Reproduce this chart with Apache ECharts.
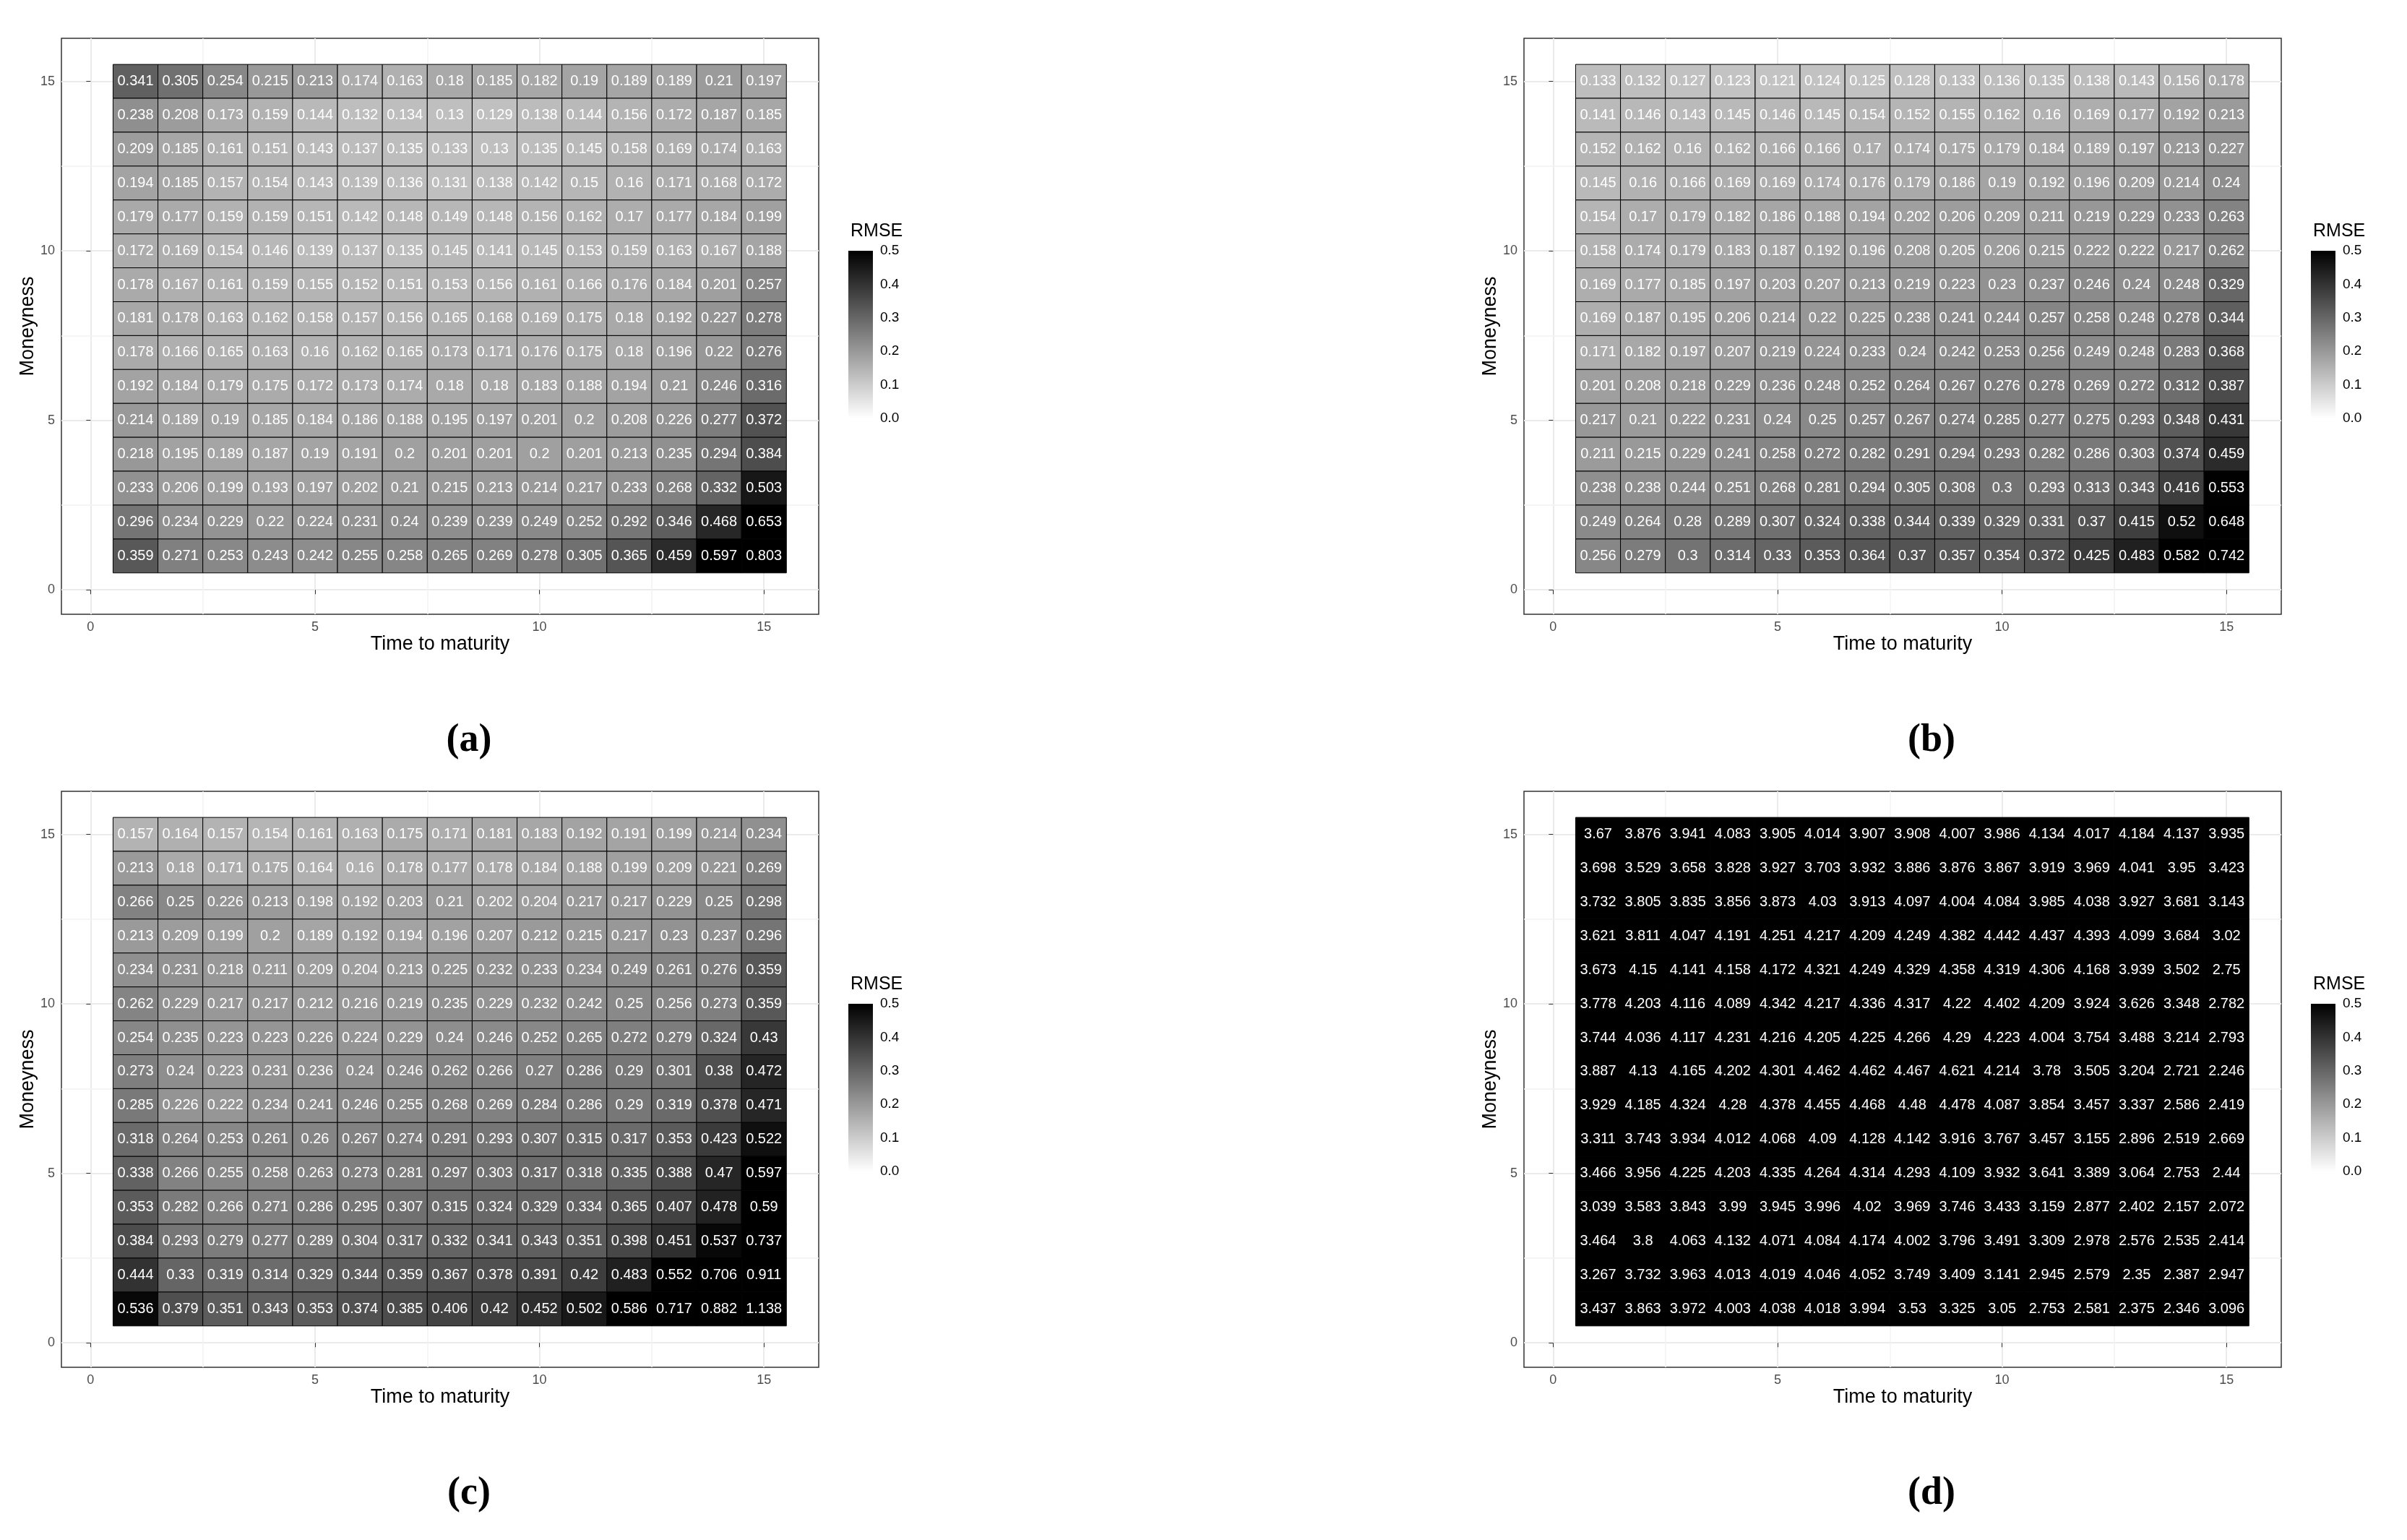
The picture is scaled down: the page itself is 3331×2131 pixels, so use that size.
<!DOCTYPE html>
<html><head><meta charset="utf-8">
<script src="https://cdn.jsdelivr.net/npm/echarts@6/dist/echarts.min.js"></script>
<style>html,body{margin:0;padding:0;background:#fff}#c{width:3331px;height:2131px}</style>
</head><body><div id="c"></div>
<script>
// rows listed from Moneyness 15 (top) down to 1 (bottom); columns Time to maturity 1..15
var panelA = [
[0.341,0.305,0.254,0.215,0.213,0.174,0.163,0.18,0.185,0.182,0.19,0.189,0.189,0.21,0.197],
[0.238,0.208,0.173,0.159,0.144,0.132,0.134,0.13,0.129,0.138,0.144,0.156,0.172,0.187,0.185],
[0.209,0.185,0.161,0.151,0.143,0.137,0.135,0.133,0.13,0.135,0.145,0.158,0.169,0.174,0.163],
[0.194,0.185,0.157,0.154,0.143,0.139,0.136,0.131,0.138,0.142,0.15,0.16,0.171,0.168,0.172],
[0.179,0.177,0.159,0.159,0.151,0.142,0.148,0.149,0.148,0.156,0.162,0.17,0.177,0.184,0.199],
[0.172,0.169,0.154,0.146,0.139,0.137,0.135,0.145,0.141,0.145,0.153,0.159,0.163,0.167,0.188],
[0.178,0.167,0.161,0.159,0.155,0.152,0.151,0.153,0.156,0.161,0.166,0.176,0.184,0.201,0.257],
[0.181,0.178,0.163,0.162,0.158,0.157,0.156,0.165,0.168,0.169,0.175,0.18,0.192,0.227,0.278],
[0.178,0.166,0.165,0.163,0.16,0.162,0.165,0.173,0.171,0.176,0.175,0.18,0.196,0.22,0.276],
[0.192,0.184,0.179,0.175,0.172,0.173,0.174,0.18,0.18,0.183,0.188,0.194,0.21,0.246,0.316],
[0.214,0.189,0.19,0.185,0.184,0.186,0.188,0.195,0.197,0.201,0.2,0.208,0.226,0.277,0.372],
[0.218,0.195,0.189,0.187,0.19,0.191,0.2,0.201,0.201,0.2,0.201,0.213,0.235,0.294,0.384],
[0.233,0.206,0.199,0.193,0.197,0.202,0.21,0.215,0.213,0.214,0.217,0.233,0.268,0.332,0.503],
[0.296,0.234,0.229,0.22,0.224,0.231,0.24,0.239,0.239,0.249,0.252,0.292,0.346,0.468,0.653],
[0.359,0.271,0.253,0.243,0.242,0.255,0.258,0.265,0.269,0.278,0.305,0.365,0.459,0.597,0.803]
];
var panelB = [
[0.133,0.132,0.127,0.123,0.121,0.124,0.125,0.128,0.133,0.136,0.135,0.138,0.143,0.156,0.178],
[0.141,0.146,0.143,0.145,0.146,0.145,0.154,0.152,0.155,0.162,0.16,0.169,0.177,0.192,0.213],
[0.152,0.162,0.16,0.162,0.166,0.166,0.17,0.174,0.175,0.179,0.184,0.189,0.197,0.213,0.227],
[0.145,0.16,0.166,0.169,0.169,0.174,0.176,0.179,0.186,0.19,0.192,0.196,0.209,0.214,0.24],
[0.154,0.17,0.179,0.182,0.186,0.188,0.194,0.202,0.206,0.209,0.211,0.219,0.229,0.233,0.263],
[0.158,0.174,0.179,0.183,0.187,0.192,0.196,0.208,0.205,0.206,0.215,0.222,0.222,0.217,0.262],
[0.169,0.177,0.185,0.197,0.203,0.207,0.213,0.219,0.223,0.23,0.237,0.246,0.24,0.248,0.329],
[0.169,0.187,0.195,0.206,0.214,0.22,0.225,0.238,0.241,0.244,0.257,0.258,0.248,0.278,0.344],
[0.171,0.182,0.197,0.207,0.219,0.224,0.233,0.24,0.242,0.253,0.256,0.249,0.248,0.283,0.368],
[0.201,0.208,0.218,0.229,0.236,0.248,0.252,0.264,0.267,0.276,0.278,0.269,0.272,0.312,0.387],
[0.217,0.21,0.222,0.231,0.24,0.25,0.257,0.267,0.274,0.285,0.277,0.275,0.293,0.348,0.431],
[0.211,0.215,0.229,0.241,0.258,0.272,0.282,0.291,0.294,0.293,0.282,0.286,0.303,0.374,0.459],
[0.238,0.238,0.244,0.251,0.268,0.281,0.294,0.305,0.308,0.3,0.293,0.313,0.343,0.416,0.553],
[0.249,0.264,0.28,0.289,0.307,0.324,0.338,0.344,0.339,0.329,0.331,0.37,0.415,0.52,0.648],
[0.256,0.279,0.3,0.314,0.33,0.353,0.364,0.37,0.357,0.354,0.372,0.425,0.483,0.582,0.742]
];
var panelC = [
[0.157,0.164,0.157,0.154,0.161,0.163,0.175,0.171,0.181,0.183,0.192,0.191,0.199,0.214,0.234],
[0.213,0.18,0.171,0.175,0.164,0.16,0.178,0.177,0.178,0.184,0.188,0.199,0.209,0.221,0.269],
[0.266,0.25,0.226,0.213,0.198,0.192,0.203,0.21,0.202,0.204,0.217,0.217,0.229,0.25,0.298],
[0.213,0.209,0.199,0.2,0.189,0.192,0.194,0.196,0.207,0.212,0.215,0.217,0.23,0.237,0.296],
[0.234,0.231,0.218,0.211,0.209,0.204,0.213,0.225,0.232,0.233,0.234,0.249,0.261,0.276,0.359],
[0.262,0.229,0.217,0.217,0.212,0.216,0.219,0.235,0.229,0.232,0.242,0.25,0.256,0.273,0.359],
[0.254,0.235,0.223,0.223,0.226,0.224,0.229,0.24,0.246,0.252,0.265,0.272,0.279,0.324,0.43],
[0.273,0.24,0.223,0.231,0.236,0.24,0.246,0.262,0.266,0.27,0.286,0.29,0.301,0.38,0.472],
[0.285,0.226,0.222,0.234,0.241,0.246,0.255,0.268,0.269,0.284,0.286,0.29,0.319,0.378,0.471],
[0.318,0.264,0.253,0.261,0.26,0.267,0.274,0.291,0.293,0.307,0.315,0.317,0.353,0.423,0.522],
[0.338,0.266,0.255,0.258,0.263,0.273,0.281,0.297,0.303,0.317,0.318,0.335,0.388,0.47,0.597],
[0.353,0.282,0.266,0.271,0.286,0.295,0.307,0.315,0.324,0.329,0.334,0.365,0.407,0.478,0.59],
[0.384,0.293,0.279,0.277,0.289,0.304,0.317,0.332,0.341,0.343,0.351,0.398,0.451,0.537,0.737],
[0.444,0.33,0.319,0.314,0.329,0.344,0.359,0.367,0.378,0.391,0.42,0.483,0.552,0.706,0.911],
[0.536,0.379,0.351,0.343,0.353,0.374,0.385,0.406,0.42,0.452,0.502,0.586,0.717,0.882,1.138]
];
var panelD = [
[3.67,3.876,3.941,4.083,3.905,4.014,3.907,3.908,4.007,3.986,4.134,4.017,4.184,4.137,3.935],
[3.698,3.529,3.658,3.828,3.927,3.703,3.932,3.886,3.876,3.867,3.919,3.969,4.041,3.95,3.423],
[3.732,3.805,3.835,3.856,3.873,4.03,3.913,4.097,4.004,4.084,3.985,4.038,3.927,3.681,3.143],
[3.621,3.811,4.047,4.191,4.251,4.217,4.209,4.249,4.382,4.442,4.437,4.393,4.099,3.684,3.02],
[3.673,4.15,4.141,4.158,4.172,4.321,4.249,4.329,4.358,4.319,4.306,4.168,3.939,3.502,2.75],
[3.778,4.203,4.116,4.089,4.342,4.217,4.336,4.317,4.22,4.402,4.209,3.924,3.626,3.348,2.782],
[3.744,4.036,4.117,4.231,4.216,4.205,4.225,4.266,4.29,4.223,4.004,3.754,3.488,3.214,2.793],
[3.887,4.13,4.165,4.202,4.301,4.462,4.462,4.467,4.621,4.214,3.78,3.505,3.204,2.721,2.246],
[3.929,4.185,4.324,4.28,4.378,4.455,4.468,4.48,4.478,4.087,3.854,3.457,3.337,2.586,2.419],
[3.311,3.743,3.934,4.012,4.068,4.09,4.128,4.142,3.916,3.767,3.457,3.155,2.896,2.519,2.669],
[3.466,3.956,4.225,4.203,4.335,4.264,4.314,4.293,4.109,3.932,3.641,3.389,3.064,2.753,2.44],
[3.039,3.583,3.843,3.99,3.945,3.996,4.02,3.969,3.746,3.433,3.159,2.877,2.402,2.157,2.072],
[3.464,3.8,4.063,4.132,4.071,4.084,4.174,4.002,3.796,3.491,3.309,2.978,2.576,2.535,2.414],
[3.267,3.732,3.963,4.013,4.019,4.046,4.052,3.749,3.409,3.141,2.945,2.579,2.35,2.387,2.947],
[3.437,3.863,3.972,4.003,4.038,4.018,3.994,3.53,3.325,3.05,2.753,2.581,2.375,2.346,3.096]
];
var panelTags = ['a','b','c','d'];
var axisTicks = [0,5,10,15];
var minorTicks = [2.5,7.5,12.5];
var xTitle = 'Time to maturity', yTitle = 'Moneyness', legendTitle = 'RMSE';

var chart = echarts.init(document.getElementById('c'));
function grey(v){ var c = Math.round(250 - 451*v); c = Math.max(0, Math.min(255, c)); return 'rgb('+c+','+c+','+c+')'; }
function toCells(rows){ var out=[]; rows.forEach(function(r,i){ r.forEach(function(v,j){ out.push([j+1, 15-i, v]); }); }); return out; }

var pos = [[85,53],[2109,53],[85,1095],[2109,1095]];
var grids=[], xAxes=[], yAxes=[], series=[], titles=[];
var data = [panelA,panelB,panelC,panelD];
data.forEach(function(rows,k){
  var L=pos[k][0], T=pos[k][1];
  grids.push({left:L, top:T, width:1048, height:797, show:true, borderColor:'#333', borderWidth:1.5, backgroundColor:'#fff', containLabel:false, outerBoundsMode:'none'});
  var gi = grids.length-1;
  var tickLab = {customValues:axisTicks, color:'#4d4d4d', fontSize:18, fontFamily:'Liberation Sans'};
  xAxes.push({gridIndex:gi, type:'value', min:-0.65, max:16.22, name:xTitle, nameLocation:'middle', nameGap:26,
    nameTextStyle:{fontSize:27, color:'#000', fontFamily:'Liberation Sans'},
    axisLine:{show:false}, axisTick:{show:true, customValues:axisTicks, length:6, lineStyle:{color:'#333'}},
    axisLabel:Object.assign({margin:9}, tickLab), splitLine:{show:true, lineStyle:{color:'#ebebeb', width:2}}});
  yAxes.push({gridIndex:gi, type:'value', min:-0.72, max:16.27, name:yTitle, nameLocation:'middle', nameGap:30,
    nameTextStyle:{fontSize:27, color:'#000', fontFamily:'Liberation Sans'},
    axisLine:{show:false}, axisTick:{show:true, customValues:axisTicks, length:6, lineStyle:{color:'#333'}},
    axisLabel:Object.assign({margin:9}, tickLab), splitLine:{show:true, lineStyle:{color:'#ebebeb', width:2}}});
  series.push({type:'line', xAxisIndex:gi, yAxisIndex:gi, data:[], silent:true, z:1,
    markLine:{silent:true, symbol:'none', label:{show:false}, lineStyle:{color:'#f2f2f2', width:1.5, type:'solid'},
      data: minorTicks.map(function(t){return {xAxis:t};}).concat(minorTicks.map(function(t){return {yAxis:t};}))}});
  series.push({type:'custom', xAxisIndex:gi, yAxisIndex:gi, data:toCells(rows), z:5,
    renderItem:function(params, api){
      var x=api.value(0), y=api.value(1), v=api.value(2);
      var p0=api.coord([x-0.5,y+0.5]), p1=api.coord([x+0.5,y-0.5]);
      return {type:'group', children:[
        {type:'rect', shape:{x:p0[0], y:p0[1], width:p1[0]-p0[0], height:p1[1]-p0[1]}, style:{fill:grey(v), stroke:'#000', lineWidth:1}},
        {type:'text', style:{text:String(v), x:(p0[0]+p1[0])/2, y:(p0[1]+p1[1])/2, align:'center', verticalAlign:'middle', fill:'#fff', fontSize:20, fontFamily:'Liberation Sans Narrow, Liberation Sans'}}
      ]};
    }});
  grids.push({left:L+1089, top:T+294, width:34, height:232, show:false, containLabel:false, outerBoundsMode:'none'});
  var li = grids.length-1;
  xAxes.push({gridIndex:li, type:'value', min:0, max:1, show:false});
  yAxes.push({gridIndex:li, type:'value', min:0, max:0.5, interval:0.1, position:'right',
    axisLine:{show:false}, axisTick:{show:false}, splitLine:{show:false},
    axisLabel:{formatter:function(v){return v.toFixed(1);}, color:'#000', fontSize:19, fontFamily:'Liberation Sans', margin:10}});
  series.push({type:'custom', xAxisIndex:li, yAxisIndex:li, data:[[0,0.5]], silent:true,
    renderItem:function(params, api){
      var a=api.coord([0,0.5]), b=api.coord([1,0]);
      return {type:'rect', shape:{x:a[0], y:a[1], width:b[0]-a[0], height:b[1]-a[1]},
        style:{fill:new echarts.graphic.LinearGradient(0,0,0,1,[{offset:0,color:'#000'},{offset:1,color:'#fff'}])}};
    }});
  titles.push({text:legendTitle, left:L+1087, top:T+250, textStyle:{fontSize:25, fontWeight:'normal', color:'#000', fontFamily:'Liberation Sans'}});
  titles.push({text:'{p|(}{b|'+panelTags[k]+'}{p|)}', left:L+559, top:T+940, textAlign:'center',
    textStyle:{rich:{p:{fontSize:54, fontFamily:'Liberation Serif', color:'#000'}, b:{fontSize:54, fontWeight:'bold', fontFamily:'Liberation Serif', color:'#000'}}}});
});
chart.setOption({animation:false, backgroundColor:'#fff', title:titles, grid:grids, xAxis:xAxes, yAxis:yAxes, series:series});
</script></body></html>
